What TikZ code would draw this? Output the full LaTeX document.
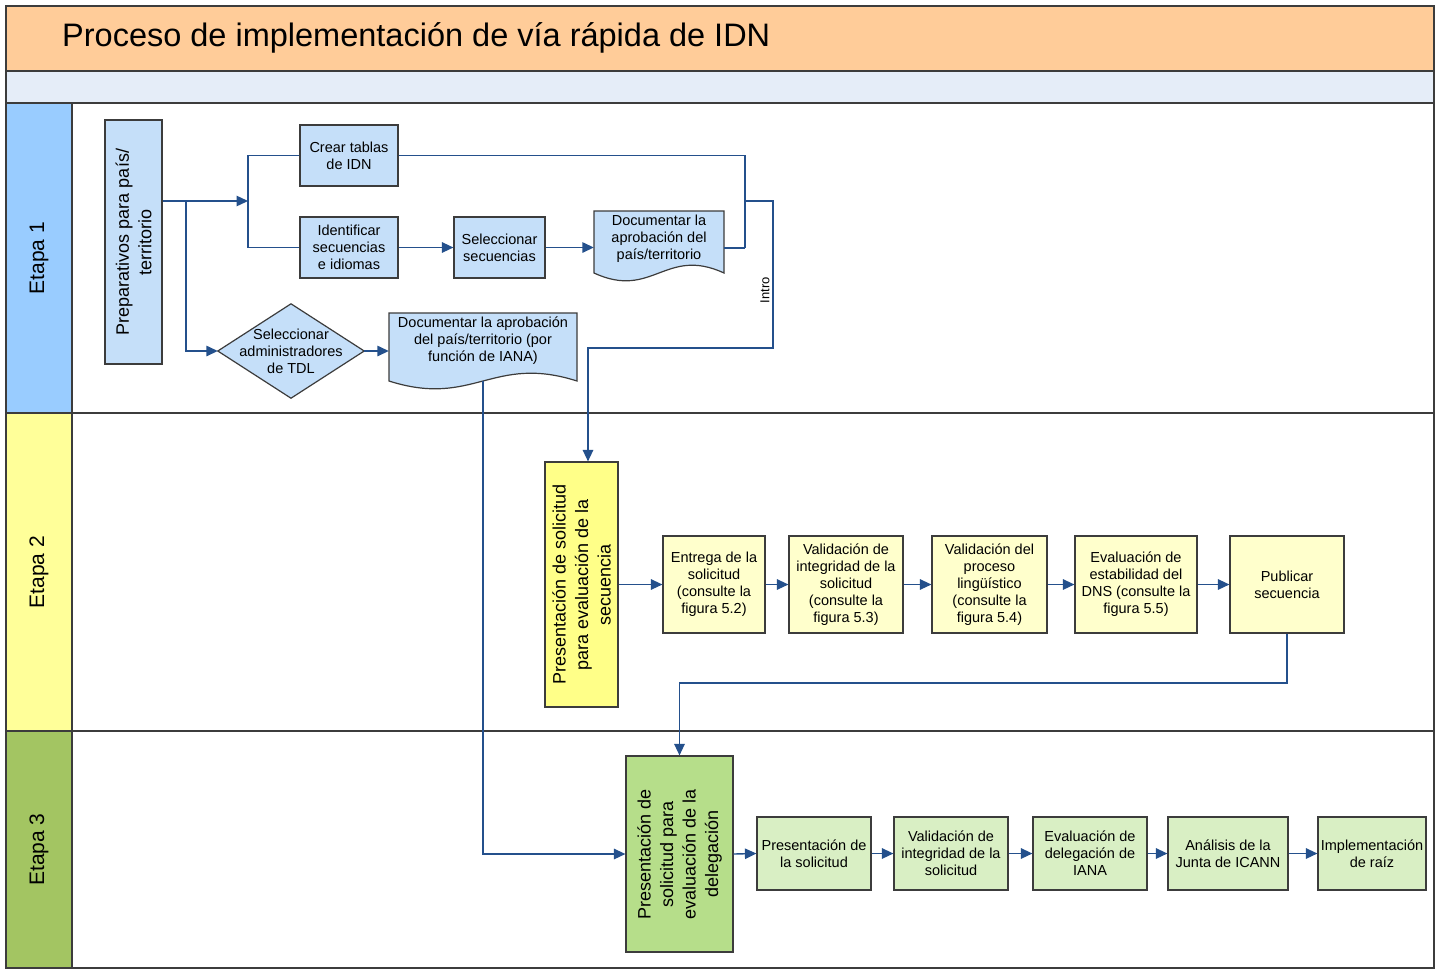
\documentclass[tikz,border=0pt]{standalone}
\usepackage{fontspec}
\setmainfont{Liberation Sans}
\usetikzlibrary{arrows.meta,calc}
\pgfdeclarelayer{lanes}
\pgfdeclarelayer{docs}
\pgfsetlayers{lanes,docs,main}
\definecolor{titlebg}{HTML}{FFCC99}
\definecolor{bandbg}{HTML}{E5EDF8}
\definecolor{laneA}{HTML}{99CCFF}
\definecolor{laneB}{HTML}{FFFF99}
\definecolor{laneC}{HTML}{A3C562}
\definecolor{bluebox}{HTML}{C5DFF9}
\definecolor{ylwbox}{HTML}{FFFFCC}
\definecolor{ylwbig}{HTML}{FFFF88}
\definecolor{grnbig}{HTML}{B6DE8A}
\definecolor{grnbox}{HTML}{D9EFC4}
\definecolor{conn}{HTML}{24508C}
\definecolor{edgec}{HTML}{3C3C3C}
\begin{document}
\begin{tikzpicture}[x=1pt,y=-1pt,
  frameline/.style={draw=edgec,line width=1.2pt},
  box/.style={draw=edgec,line width=1.2pt,align=center,inner sep=2pt,
    font=\fontsize{14.5}{17}\selectfont,text=black},
  sz/.style 2 args={minimum width=#1pt,minimum height=#2pt},
  bbox/.style={box,fill=bluebox},
  ybox/.style={box,fill=ylwbox},
  gbox/.style={box,fill=grnbox},
  rotbox/.style={box,rotate=90,font=\fontsize{18}{22.5}\selectfont},
  ghost/.style={align=center,inner sep=2pt,font=\fontsize{14.5}{17}\selectfont},
  ln/.style={draw=conn,line width=1.4pt},
  arr/.style={ln,-{Triangle[length=11.5pt,width=10.5pt]}},
  lanelabel/.style={rotate=90,font=\fontsize{21}{24}\selectfont}
]
\useasboundingbox (0,0) rectangle (1442,970);

% ---------- lanes ----------
\begin{pgfonlayer}{lanes}
\fill[white] (0,0) rectangle (1442,970);
\fill[titlebg] (6,6) rectangle (1434,71);
\fill[bandbg] (6,71) rectangle (1434,103);
\fill[white] (72,103) rectangle (1434,968);
\fill[laneA] (6,103) rectangle (72,413);
\fill[laneB] (6,413) rectangle (72,731);
\fill[laneC] (6,731) rectangle (72,968);
\draw[frameline] (6,6) rectangle (1434,968);
\draw[frameline] (6,71) -- (1434,71);
\draw[frameline] (6,103) -- (1434,103);
\draw[frameline] (6,413) -- (1434,413);
\draw[frameline] (6,731) -- (1434,731);
\draw[frameline] (72,103) -- (72,968);
\end{pgfonlayer}

\node[anchor=west,font=\fontsize{32.5}{36}\selectfont,inner sep=0pt] (title) at (62,38)
  {Proceso de implementación de vía rápida de IDN};
\node[lanelabel] (e1) at (39,258) {Etapa 1};
\node[lanelabel] (e2) at (39,572) {Etapa 2};
\node[lanelabel] (e3) at (39,849.5) {Etapa 3};

% ---------- Etapa 1 ----------
\node[rotbox,fill=bluebox,minimum width=244pt,minimum height=57pt] (prep) at (133.5,242)
  {Preparativos para país/\\territorio};
\node[bbox,sz={98}{61}] (crear) at (349,155.5) {Crear tablas\\de IDN};
\node[bbox,sz={98}{61}] (ident) at (349,247.5) {Identificar\\secuencias\\e idiomas};
\node[bbox,sz={91}{61}] (selec) at (499.5,247.5) {Seleccionar\\secuencias};
\node[ghost,sz={130}{56}] (doc1) at (659,239) {Documentar la\\aprobación del\\país/territorio};
\node[ghost,sz={146}{94}] (dia) at (291,351) {Seleccionar\\administradores\\de TDL};
\node[ghost,sz={188}{56}] (doc2) at (483,341) {Documentar la aprobación\\del país/territorio (por\\función de IANA)};

\begin{pgfonlayer}{docs}
\draw[fill=bluebox,draw=edgec,line width=1.2pt]
  (594,211) -- (724,211) -- (724,273)
  .. controls (665.5,246) and (652.5,300) .. (594,273) -- cycle;
\draw[fill=bluebox,draw=edgec,line width=1.2pt]
  (389,313) -- (577,313) -- (577,381)
  .. controls (492.4,354) and (473.6,408) .. (389,381) -- cycle;
\draw[fill=bluebox,draw=edgec,line width=1.2pt]
  (dia.west) -- (dia.north) -- (dia.east) -- (dia.south) -- cycle;
\end{pgfonlayer}

\coordinate (j1) at (248,201);
\coordinate (b1) at (186,201);
\coordinate (m1) at (745,248);
\coordinate (m2) at (745,201);
\coordinate (m3) at (773,348);
\coordinate (m5) at (0,683);

\draw[arr] (prep.south |- j1) -- (j1);
\draw[ln] (crear.west) -| (j1) |- (ident.west);
\draw[arr] (b1) |- (dia.west);
\draw[arr] (ident.east) -- (selec.west);
\draw[arr] (selec.east) -- (doc1.west |- selec.east);
\draw[arr] (dia.east) -- (doc2.west |- dia.east);
\draw[ln] (crear.east) -| (m1);
\draw[ln] (doc1.east |- m1) -- (m1);

% ---------- Etapa 2 ----------
\node[rotbox,fill=ylwbig,minimum width=245pt,minimum height=73pt] (presy) at (581.5,584.5)
  {Presentación de solicitud\\para evaluación de la\\secuencia};
\node[ybox,sz={102}{97}] (entrega) at (714,584.5) {Entrega de la\\solicitud\\(consulte la\\figura 5.2)};
\node[ybox,sz={114}{97}] (valA) at (846,584.5) {Validación de\\integridad de la\\solicitud\\(consulte la\\figura 5.3)};
\node[ybox,sz={115}{97}] (valB) at (989.5,584.5) {Validación del\\proceso\\lingüístico\\(consulte la\\figura 5.4)};
\node[ybox,sz={122}{97}] (evalE) at (1136,584.5) {Evaluación de\\estabilidad del\\DNS (consulte la\\figura 5.5)};
\node[ybox,sz={114}{97}] (pub) at (1287,584.5) {Publicar\\secuencia};

\draw[arr] (m2) -| (m3) -| ([xshift=6.5pt]presy.east);
\node[rotate=90,font=\fontsize{13}{15}\selectfont,inner sep=1pt] (intro) at (765,290) {Intro};

\draw[arr] (presy.south) -- (entrega.west);
\draw[arr] (entrega.east) -- (valA.west);
\draw[arr] (valA.east) -- (valB.west);
\draw[arr] (valB.east) -- (evalE.west);
\draw[arr] (evalE.east) -- (pub.west);

% ---------- Etapa 3 ----------
\node[rotbox,fill=grnbig,minimum width=196pt,minimum height=107pt] (gbig) at (679.5,854)
  {Presentación de\\solicitud para\\evaluación de la\\delegación};
\node[gbox,sz={114}{73}] (presC) at (814,853.5) {Presentación de\\la solicitud};
\node[gbox,sz={114}{73}] (valC) at (951,853.5) {Validación de\\integridad de la\\solicitud};
\node[gbox,sz={114}{73}] (deleg) at (1090,853.5) {Evaluación de\\delegación de\\IANA};
\node[gbox,sz={120}{73}] (anal) at (1228,853.5) {Análisis de la\\Junta de ICANN};
\node[gbox,sz={108}{73}] (impl) at (1372,853.5) {Implementación\\de raíz};

\draw[arr] (pub.south) -- (pub.south |- m5) -| (gbig.east);
\draw[arr] ([yshift=-12pt]doc2.south) |- (gbig.north);
\draw[arr] (gbig.south) -- (presC.west);
\draw[arr] (presC.east) -- (valC.west);
\draw[arr] (valC.east) -- (deleg.west);
\draw[arr] (deleg.east) -- (anal.west);
\draw[arr] (anal.east) -- (impl.west);
\end{tikzpicture}
\end{document}
